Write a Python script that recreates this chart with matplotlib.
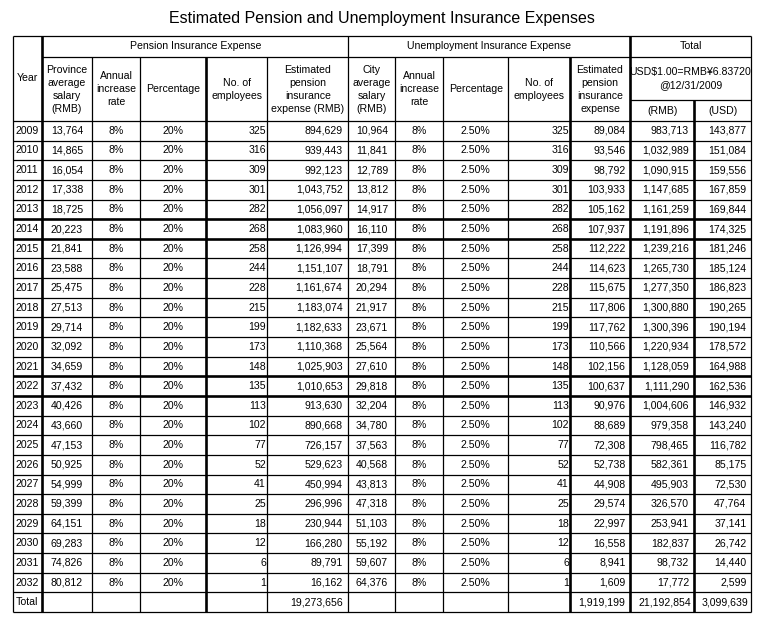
import matplotlib
matplotlib.use("Agg")
import matplotlib.pyplot as plt

plt.rcParams['font.family'] = ['Liberation Sans', 'DejaVu Sans']

# ---------------- data ----------------
title = "Estimated Pension and Unemployment Insurance Expenses"
years = list(range(2009, 2033))
province_salary = [13764, 14865, 16054, 17338, 18725, 20223, 21841, 23588, 25475, 27513,
                   29714, 32092, 34659, 37432, 40426, 43660, 47153, 50925, 54999, 59399,
                   64151, 69283, 74826, 80812]
employees = [325, 316, 309, 301, 282, 268, 258, 244, 228, 215, 199, 173, 148, 135, 113,
             102, 77, 52, 41, 25, 18, 12, 6, 1]
pension_exp = [894629, 939443, 992123, 1043752, 1056097, 1083960, 1126994, 1151107,
               1161674, 1183074, 1182633, 1110368, 1025903, 1010653, 913630, 890668,
               726157, 529623, 450994, 296996, 230944, 166280, 89791, 16162]
city_salary = [10964, 11841, 12789, 13812, 14917, 16110, 17399, 18791, 20294, 21917,
               23671, 25564, 27610, 29818, 32204, 34780, 37563, 40568, 43813, 47318,
               51103, 55192, 59607, 64376]
unemp_exp = [89084, 93546, 98792, 103933, 105162, 107937, 112222, 114623, 115675,
             117806, 117762, 110566, 102156, 100637, 90976, 88689, 72308, 52738, 44908,
             29574, 22997, 16558, 8941, 1609]
total_rmb = [983713, 1032989, 1090915, 1147685, 1161259, 1191896, 1239216, 1265730,
             1277350, 1300880, 1300396, 1220934, 1128059, 1111290, 1004606, 979358,
             798465, 582361, 495903, 326570, 253941, 182837, 98732, 17772]
total_usd = [143877, 151084, 159556, 167859, 169844, 174325, 181246, 185124, 186823,
             190265, 190194, 178572, 164988, 162536, 146932, 143240, 116782, 85175,
             72530, 47764, 37141, 26742, 14440, 2599]
annual_rate = "8%"
pension_pct = "20%"
unemp_pct = "2.50%"
sum_pension = 19273656
sum_unemp = 1919199
sum_rmb = 21192854
sum_usd = 3099639

group_labels = ["Pension Insurance Expense", "Unemployment Insurance Expense", "Total"]
sub_headers = ["Province\naverage\nsalary\n(RMB)", "Annual\nincrease\nrate", "Percentage",
               "No. of\nemployees", "Estimated\npension\ninsurance\nexpense (RMB)",
               "City\naverage\nsalary\n(RMB)", "Annual\nincrease\nrate", "Percentage",
               "No. of\nemployees", "Estimated\npension\ninsurance\nexpense"]
rate_note = "USD$1.00=RMB¥6.83720\n@12/31/2009"
cur_labels = ["(RMB)", "(USD)"]

# ---------------- layout ----------------
W, H = 765, 632
fig = plt.figure(figsize=(W / 100, H / 100), dpi=100)
ax = fig.add_axes([0, 0, 1, 1])
ax.set_xlim(0, W)
ax.set_ylim(H, 0)
ax.axis('off')

X = [13.5, 42, 92, 140, 206, 267.5, 348.5, 395.5, 443, 508.5, 570, 630, 694.5, 751]
Y0, Y1, Y2, Y3 = 35.7, 56.7, 100.3, 121
YB = 612
nrows = len(years) + 1
rh = (YB - Y3) / nrows

thin = 0.9
thick = 1.9
FS = 7.6
col = 'black'


def hline(y, x0, x1, lw=thin):
    ax.plot([x0, x1], [y, y], color=col, lw=lw, solid_capstyle='butt')


def vline(x, y0, y1, lw=thin):
    ax.plot([x, x], [y0, y1], color=col, lw=lw, solid_capstyle='butt')


# title
ax.text(382, 18, title, ha='center', va='center', fontsize=11.5, color=col)

# outer border and header lines
hline(Y0, X[0], X[-1])
hline(YB, X[0], X[-1])
hline(Y1, X[1], X[-1])
hline(Y2, X[11], X[-1])
hline(Y3, X[0], X[-1])

# row lines
thick_rows = {years.index(2014), years.index(2014) + 1, years.index(2022), years.index(2022) + 1}
for i in range(1, nrows):
    y = Y3 + i * rh
    hline(y, X[0], X[-1], thick if i in thick_rows else thin)

# vertical lines
vline(X[0], Y0, YB)
vline(X[-1], Y0, YB)
vline(X[1], Y0, YB, thick)
vline(X[6], Y0, YB)
vline(X[11], Y0, YB, thick)
for k in (2, 3, 5, 7, 8, 9):
    vline(X[k], Y1, YB)
vline(X[4], Y1, YB, thick)
vline(X[10], Y1, YB, thick)
vline(X[12], Y2, YB, thick)

# header texts
ax.text(X[0] + 3, (Y0 + Y3) / 2, "Year", ha='left', va='center', fontsize=FS)
ax.text((X[1] + X[6]) / 2, (Y0 + Y1) / 2, group_labels[0], ha='center', va='center', fontsize=FS)
ax.text((X[6] + X[11]) / 2, (Y0 + Y1) / 2, group_labels[1], ha='center', va='center', fontsize=FS)
ax.text((X[11] + X[13]) / 2, (Y0 + Y1) / 2, group_labels[2], ha='center', va='center', fontsize=FS)
for k, lab in enumerate(sub_headers):
    ax.text((X[k + 1] + X[k + 2]) / 2, (Y1 + Y3) / 2 + 0.5, lab, ha='center', va='center',
            fontsize=FS, multialignment='center', linespacing=1.38)
ax.text((X[11] + X[13]) / 2, (Y1 + Y2) / 2, rate_note, ha='center', va='center',
        fontsize=FS, multialignment='center', linespacing=1.38)
ax.text((X[11] + X[12]) / 2, (Y2 + Y3) / 2, cur_labels[0], ha='center', va='center', fontsize=FS)
ax.text((X[12] + X[13]) / 2, (Y2 + Y3) / 2, cur_labels[1], ha='center', va='center', fontsize=FS)


def fmt(v):
    return f"{v:,}"


def center(k, y, s):
    ax.text((X[k] + X[k + 1]) / 2, y, s, ha='center', va='center', fontsize=FS)


def right(k, y, s, pad):
    ax.text(X[k + 1] - pad, y, s, ha='right', va='center', fontsize=FS)


for i, yr in enumerate(years):
    y = Y3 + (i + 0.5) * rh
    ax.text(X[0] + 2.5, y, str(yr), ha='left', va='center', fontsize=FS)
    center(1, y, fmt(province_salary[i]))
    center(2, y, annual_rate)
    center(3, y, pension_pct)
    right(4, y, str(employees[i]), 1.5)
    right(5, y, fmt(pension_exp[i]), 6)
    center(6, y, fmt(city_salary[i]))
    center(7, y, annual_rate)
    center(8, y, unemp_pct)
    right(9, y, str(employees[i]), 1)
    right(10, y, fmt(unemp_exp[i]), 4.5)
    right(11, y, fmt(total_rmb[i]), 5.5)
    right(12, y, fmt(total_usd[i]), 4.5)

y = Y3 + (len(years) + 0.5) * rh
ax.text(X[0] + 2.5, y, "Total", ha='left', va='center', fontsize=FS)
right(5, y, fmt(sum_pension), 6)
right(10, y, fmt(sum_unemp), 4.5)
right(11, y, fmt(sum_rmb), 3)
right(12, y, fmt(sum_usd), 3)

fig.savefig("out.png", dpi=100)
